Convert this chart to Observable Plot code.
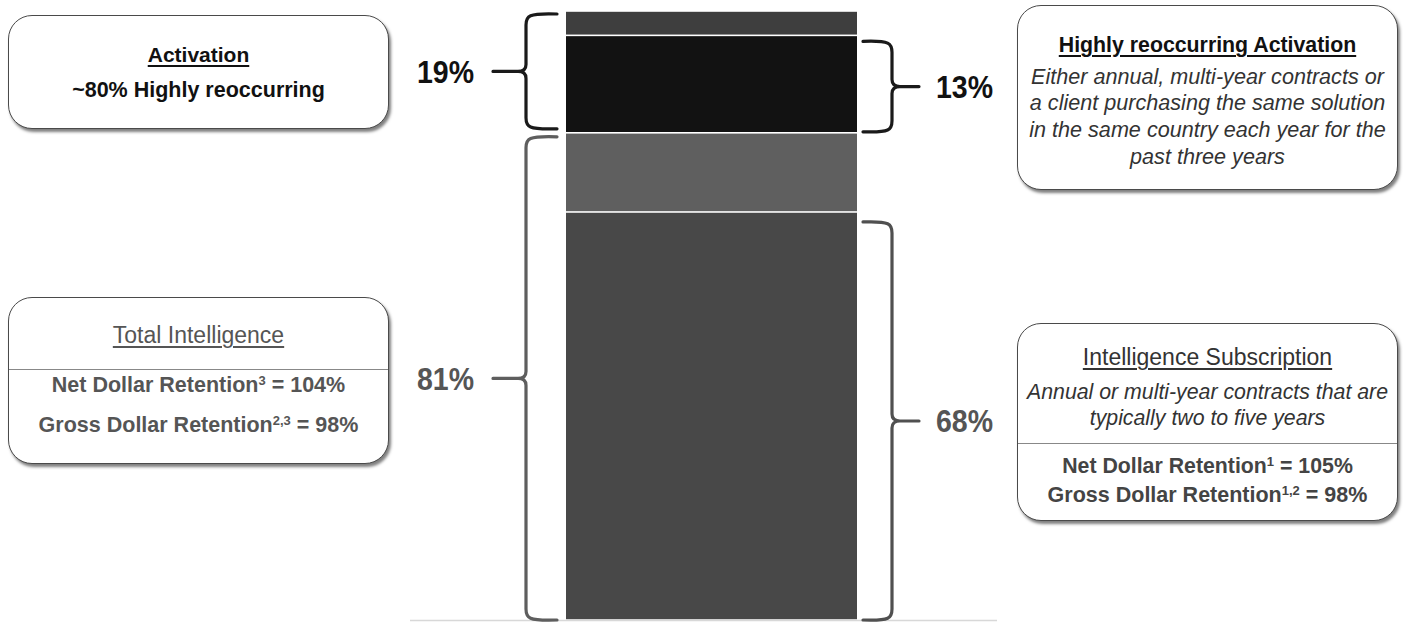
<!DOCTYPE html>
<html>
<head>
<meta charset="utf-8">
<script src="https://cdn.jsdelivr.net/npm/d3@7"></script>
<script src="https://cdn.jsdelivr.net/npm/@observablehq/plot@0.6"></script>
<style>
  html, body { margin: 0; padding: 0; background: #fff; }
  #wrap { position: relative; width: 1408px; height: 622px; overflow: hidden; font-family: "Liberation Sans", Arial, sans-serif; }
  #wrap svg { position: absolute; left: 0; top: 0; }
  .box { position: absolute; box-sizing: border-box; border: 1.6px solid #4a4a4a; border-radius: 24px;
         box-shadow: 2px 3px 3px rgba(0,0,0,0.5); background: #fff; text-align: center; }
  .ln { position: absolute; left: 0; right: 0; height: 26px; line-height: 26px; white-space: nowrap; }
  .t { text-decoration: underline; text-underline-offset: 3px; text-decoration-thickness: 1.5px; }
  .sep { position: absolute; left: 0; right: 0; border-top: 1.3px solid #888; }
  .it { font-style: italic; }
  sup { font-size: 13px; line-height: 0; vertical-align: 7px; }
</style>
</head>
<body>
<div id="wrap"></div>
<script>
// ---- data ----
const category = "Revenue";
const segments = ["Intelligence Subscription", "Other Intelligence", "Highly reoccurring Activation", "Other Activation"];
const shares = [67, 13, 16, 4];
const fills = ["#484848", "#5f5f5f", "#121212", "#3e3e3e"];

// brackets: label, side, first segment index, last segment index, colour
const bracketLabels = ["19%", "13%", "81%", "68%"];
const bracketSides = ["left", "right", "left", "right"];
const bracketFrom = [2, 2, 0, 0];
const bracketTo = [3, 2, 1, 0];
const bracketColors = ["#1a1a1a", "#1a1a1a", "#5e5e5e", "#505050"];

const boxTitles = ["Activation", "Highly reoccurring Activation", "Total Intelligence", "Intelligence Subscription"];

// ---- build table ----
let acc = 0;
const rows = segments.map((s, i) => {
  const r = {cat: category, seg: s, y1: acc, y2: acc + shares[i], fill: fills[i]};
  acc += shares[i];
  return r;
});

const W = 1408, H = 622;
const plot = Plot.plot({
  width: W, height: H,
  marginLeft: 566, marginRight: 551, marginTop: 11, marginBottom: 2,
  x: {type: "band", domain: [category], padding: 0, axis: null},
  y: {domain: [0, 100], axis: null},
  marks: [
    Plot.ruleY([0], {stroke: "#d8d8d8", strokeWidth: 1.5, insetLeft: -156, insetRight: -140}),
    Plot.rectY(rows, {x: "cat", y1: "y1", y2: "y2", fill: "fill", insetTop: 0.8, insetBottom: 0.8})
  ]
});

const wrap = document.getElementById("wrap");
wrap.appendChild(plot);

// ---- brackets & labels via the plot's scales ----
const ys = plot.scale("y"), xs = plot.scale("x");
const bx0 = xs.apply(category), bx1 = bx0 + xs.bandwidth;
const svg = d3.select(plot);
const g = svg.append("g");
const topInset = [3, 6, 4, 10];
const botInset = [4, 1, 0, 0];
bracketLabels.forEach((lab, i) => {
  const yTop = ys.apply(rows[bracketTo[i]].y2) + topInset[i];
  const yBot = ys.apply(rows[bracketFrom[i]].y1) - botInset[i];
  const ym = (yTop + yBot) / 2;
  const left = bracketSides[i] === "left";
  const s = left ? -1 : 1;
  const edge = left ? bx0 : bx1;
  const xa = edge + s * (left ? 9 : 6);      // arm end
  const xv = edge + s * (left ? 40 : 35);    // vertical
  const xt = xv + s * (left ? 33 : 27);      // tip end
  const r = 11;
  const p = d3.path();
  p.moveTo(xa, yTop);
  p.bezierCurveTo(xv - s * 2, yTop - 1, xv, yTop + 2, xv, yTop + r);
  p.lineTo(xv, ym - 7);
  p.quadraticCurveTo(xv, ym, xv + s * 8, ym);
  p.lineTo(xt, ym);
  p.moveTo(xv + s * 8, ym);
  p.quadraticCurveTo(xv, ym, xv, ym + 7);
  p.lineTo(xv, yBot - r);
  p.bezierCurveTo(xv, yBot - 2, xv - s * 2, yBot + 1, xa, yBot);
  g.append("path").attr("d", p.toString()).attr("fill", "none")
    .attr("stroke", bracketColors[i]).attr("stroke-width", 3.2).attr("stroke-linecap", "round");
  const tx = xt + s * (left ? 19 : 17);
  g.append("text")
    .attr("transform", `translate(${tx},${ym}) scale(0.92,1)`)
    .attr("dy", "0.36em")
    .attr("text-anchor", left ? "end" : "start")
    .attr("font-family", "Liberation Sans, Arial, sans-serif").attr("font-weight", "bold")
    .attr("font-size", 31).attr("fill", i < 2 ? "#111" : "#555")
    .text(lab);
});

// ---- annotation boxes ----
function box(left, top, w, h, lines) {
  const d = document.createElement("div");
  d.className = "box";
  Object.assign(d.style, {left: left + "px", top: top + "px", width: w + "px", height: h + "px"});
  lines.forEach(l => {
    const e = document.createElement("div");
    if (l.sep) {
      e.className = "sep";
      e.style.top = (l.y - top - 1.5) + "px";
    } else {
      e.className = "ln " + (l.cls || "");
      e.style.top = (l.y - top - 14) + "px";
      e.style.cssText += l.style;
      e.innerHTML = l.html;
    }
    d.appendChild(e);
  });
  wrap.appendChild(d);
}
box(8, 15, 381, 114, [
  {y: 55, cls: "t", style: "font-weight:bold;font-size:21px;color:#111", html: boxTitles[0]},
  {y: 90, style: "font-weight:bold;font-size:21.5px;color:#111", html: "~80% Highly reoccurring"}
]);
box(1017, 5, 381, 185, [
  {y: 45, cls: "t", style: "font-weight:bold;font-size:21.3px;color:#111", html: boxTitles[1]},
  {y: 77, cls: "it", style: "font-size:21.6px;color:#333", html: "Either annual, multi-year contracts or"},
  {y: 103, cls: "it", style: "font-size:21.6px;color:#333", html: "a client purchasing the same solution"},
  {y: 130, cls: "it", style: "font-size:21.6px;color:#333", html: "in the same country each year for the"},
  {y: 157, cls: "it", style: "font-size:21.6px;color:#333", html: "past three years"}
]);
box(8, 297, 381, 167, [
  {y: 335, cls: "t", style: "font-size:23px;color:#555", html: boxTitles[2]},
  {y: 369, sep: true},
  {y: 385, style: "font-weight:bold;font-size:21.5px;color:#555", html: "Net Dollar Retention<sup>3</sup> = 104%"},
  {y: 425, style: "font-weight:bold;font-size:21.5px;color:#555", html: "Gross Dollar Retention<sup>2,3</sup> = 98%"}
]);
box(1017, 323, 381, 198, [
  {y: 357, cls: "t", style: "font-size:23px;color:#333", html: boxTitles[3]},
  {y: 392, cls: "it", style: "font-size:21.3px;color:#333", html: "Annual or multi-year contracts that are"},
  {y: 418, cls: "it", style: "font-size:21.3px;color:#333", html: "typically two to five years"},
  {y: 443, sep: true},
  {y: 466, style: "font-weight:bold;font-size:21.3px;color:#444", html: "Net Dollar Retention<sup>1</sup> = 105%"},
  {y: 495, style: "font-weight:bold;font-size:21.5px;color:#444", html: "Gross Dollar Retention<sup>1,2</sup> = 98%"}
]);
</script>
</body>
</html>
